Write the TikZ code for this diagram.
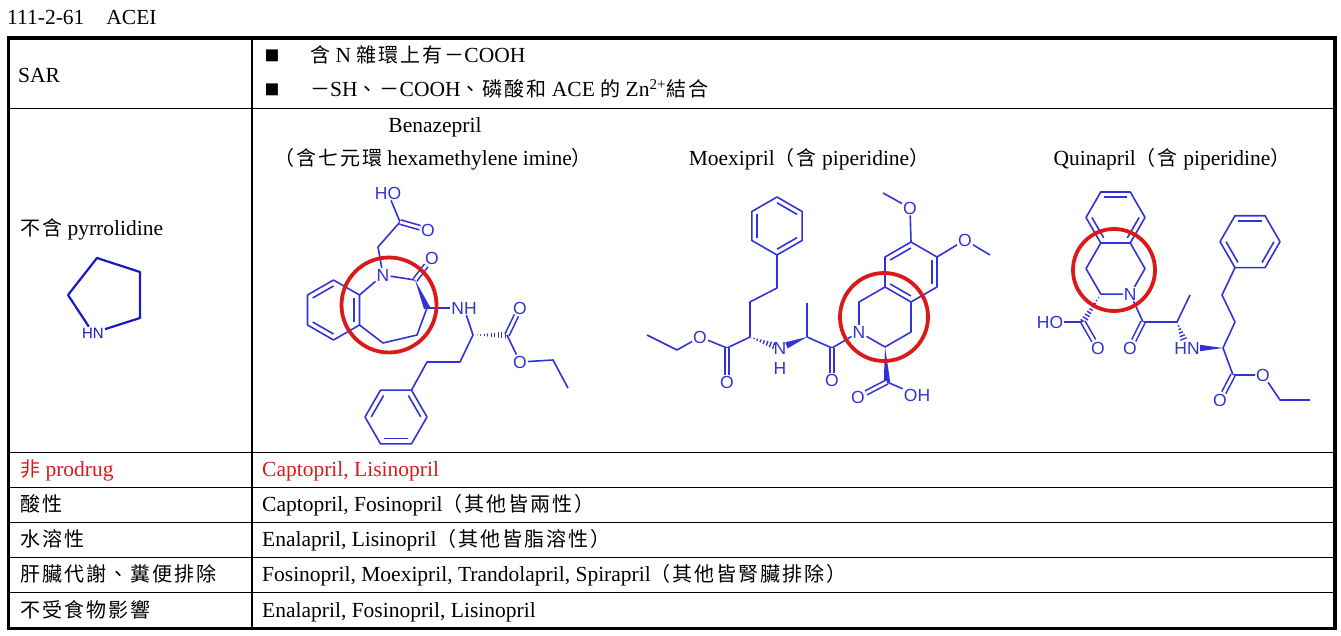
\documentclass[tikz,border=0pt]{standalone}
\usepackage{fontspec}
\setmainfont{Liberation Serif}
\newfontfamily\cjk[LetterSpace=10,Scale=0.93]{Noto Sans CJK TC}
\newfontfamily\chemfont{Liberation Sans}
\usetikzlibrary{calc}

\definecolor{chem}{RGB}{50,50,215}
\definecolor{pyrblue}{RGB}{25,25,200}
\definecolor{markred}{RGB}{220,25,25}

\tikzset{
  bond/.style={draw=chem, line width=1.6pt, line join=round},
  dbl/.style={double=white, double distance=2.8pt},
  atom/.style={font=\chemfont\fontsize{17.5}{17.5}\selectfont, text=chem, inner sep=1pt},
  cell/.style={font=\fontsize{21.5}{25}\selectfont, anchor=base west, inner sep=0pt},
  tableline/.style={line width=1.2pt},
  redring/.style={draw=markred, line width=3.8pt},
}

% 六元环: 名称, 中心, 半径, 起始角
\newcommand{\hexring}[4]{%
  \coordinate (#1) at (#2);
  \foreach \k in {1,...,6}{\coordinate (#1-\k) at ($(#1)+({#4+60*(\k-1)}:#3)$);}
  \draw[bond] (#1-1) -- (#1-2) -- (#1-3) -- (#1-4) -- (#1-5) -- (#1-6) -- cycle;}
\newcommand{\innerbond}[3]{\draw[bond] ($(#1)!0.8!(#1-#2)$) -- ($(#1)!0.8!(#1-#3)$);}
\newcommand{\wedgebond}[2]{\fill[chem] (#1) -- ($(#2)!3.2pt!90:(#1)$) -- ($(#2)!3.2pt!-90:(#1)$) -- cycle;}
\newcommand{\hashbond}[2]{\begin{scope}
  \clip (#1) -- ($(#2)!3.5pt!90:(#1)$) -- ($(#2)!3.5pt!-90:(#1)$) -- cycle;
  \draw[chem, line width=9pt, dash pattern=on 1.4pt off 2.1pt] (#1) -- (#2);
  \end{scope}}

\begin{document}
\begin{tikzpicture}[x=1pt,y=-1pt]
    \useasboundingbox (0,0) rectangle (1341,636);

    % 绘制表格
    \draw[line width=3.5pt] (8.5,38) rectangle (1335,628.5);
    \draw[tableline] (252,38) -- (252,628.5);
    \draw[tableline] (8.5,108.3) -- (1335,108.3);
    \draw[tableline] (8.5,452.3) -- (1335,452.3);
    \draw[tableline] (8.5,487.3) -- (1335,487.3);
    \draw[tableline] (8.5,522.3) -- (1335,522.3);
    \draw[tableline] (8.5,557.3) -- (1335,557.3);
    \draw[tableline] (8.5,592.3) -- (1335,592.3);

    % 绘制标题和文字
    \node[cell] (title) at (7,25) {111-2-61\hspace{22pt}ACEI};
    \node[cell] (sar) at (18,83) {SAR};
    \node[font=\cjk\fontsize{16}{16}\selectfont, inner sep=0pt] (dot1) at (272,56) {■};
    \node[font=\cjk\fontsize{16}{16}\selectfont, inner sep=0pt] (dot2) at (272,90) {■};
    \node[cell] (sar1) at (310,63) {{\cjk 含} N {\cjk 雜環上有－}COOH};
    \node[cell] (sar2) at (310,97) {{\cjk －}SH{\cjk 、－}COOH{\cjk 、磷酸和} ACE {\cjk 的} Zn\textsuperscript{2+}{\cjk 結合}};
    \node[cell] (pyr) at (20,236) {{\cjk 不含} pyrrolidine};
    \node[cell, anchor=base] (benaz) at (435,133) {Benazepril};
    \node[cell, anchor=base] (benazring) at (433,166) {{\cjk （含七元環} hexamethylene imine{\cjk ）}};
    \node[cell, anchor=base] (moexi) at (809,166) {Moexipril{\cjk （含} piperidine{\cjk ）}};
    \node[cell, anchor=base] (quina) at (1172,166) {Quinapril{\cjk （含} piperidine{\cjk ）}};
    \node[cell, text=markred] (r1a) at (20,476.5) {{\cjk 非} prodrug};
    \node[cell, text=markred] (r1b) at (262,476.5) {Captopril, Lisinopril};
    \node[cell] (r2a) at (20,511.5) {{\cjk 酸性}};
    \node[cell] (r2b) at (262,511.5) {Captopril, Fosinopril{\cjk （其他皆兩性）}};
    \node[cell] (r3a) at (20,546.4) {{\cjk 水溶性}};
    \node[cell] (r3b) at (262,546.4) {Enalapril, Lisinopril{\cjk （其他皆脂溶性）}};
    \node[cell] (r4a) at (20,581.4) {{\cjk 肝臟代謝、糞便排除}};
    \node[cell] (r4b) at (262,581.4) {Fosinopril, Moexipril, Trandolapril, Spirapril{\cjk （其他皆腎臟排除）}};
    \node[cell] (r5a) at (20,617) {{\cjk 不受食物影響}};
    \node[cell] (r5b) at (262,617) {Enalapril, Fosinopril, Lisinopril};

    % 绘制 pyrrolidine
    \node[atom, text=pyrblue, font=\chemfont\fontsize{15}{15}\selectfont] (pN) at (93,333) {HN};
    \coordinate (pC1) at (97,258);
    \coordinate (pC2) at (140,272);
    \coordinate (pC3) at (140,318);
    \coordinate (pC4) at (68,295);
    \draw[bond, draw=pyrblue, line width=2.2pt] (pC4) -- (pC1) -- (pC2) -- (pC3) -- (pN) -- (pC4);

    % 绘制 Benazepril
    \node[atom] (bHO) at (388,193) {HO};
    \coordinate (bC1) at (400,222);
    \node[atom] (bO1) at (428,230) {O};
    \coordinate (bC2) at (378,247);
    \node[atom] (bN) at (383,275) {N};
    \coordinate (bC3) at (415,280);
    \node[atom] (bO2) at (432,258) {O};
    \coordinate (bC4) at (427,308);
    \node[atom] (bNH) at (464,308) {NH};
    \coordinate (bC5) at (417,335);
    \coordinate (bC6) at (383,343);
    \hexring{bA}{333.5,310}{30}{-30}
    \innerbond{bA}{1}{2}\innerbond{bA}{3}{4}\innerbond{bA}{5}{6}
    \draw[bond] (bHO) -- (bC1) -- (bC2) -- (bN) -- (bC3);
    \draw[bond,dbl] (bC1) -- (bO1);
    \draw[bond,dbl] (bC3) -- (bO2);
    \wedgebond{bC3}{bC4}
    \draw[bond] (bC4) -- (bNH);
    \draw[bond] (bC4) -- (bC5) -- (bC6) -- (bA-2);
    \draw[bond] (bN) -- (bA-1);
    \coordinate (bC7) at (473,335);
    \coordinate (bC8) at (507,335);
    \node[atom] (bO3) at (520,308) {O};
    \node[atom] (bO4) at (520,362) {O};
    \coordinate (bC9) at (553,360);
    \coordinate (bC10) at (568,388);
    \coordinate (bC11) at (460,362);
    \coordinate (bC12) at (427,362);
    \hexring{bP}{396,417}{31}{0}
    \innerbond{bP}{6}{1}\innerbond{bP}{4}{5}\innerbond{bP}{2}{3}
    \draw[bond] (bNH) -- (bC7);
    \hashbond{bC7}{bC8}
    \draw[bond,dbl] (bC8) -- (bO3);
    \draw[bond] (bC8) -- (bO4) -- (bC9) -- (bC10);
    \draw[bond] (bC7) -- (bC11) -- (bC12) -- (bP-6);

    % 绘制 Moexipril
    \coordinate (mC1) at (647,335);
    \coordinate (mC2) at (677,350);
    \node[atom] (mO1) at (700,337) {O};
    \coordinate (mC3) at (727,348);
    \node[atom] (mO2) at (727,382) {O};
    \coordinate (mC4) at (750,337);
    \coordinate (mC5) at (750,302);
    \coordinate (mC6) at (777,288);
    \hexring{mP}{777,226}{29}{90}
    \innerbond{mP}{2}{3}\innerbond{mP}{4}{5}\innerbond{mP}{6}{1}
    \node[atom] (mN1) at (780,348) {N};
    \node[atom] (mH) at (780,368) {H};
    \coordinate (mC7) at (807,337);
    \coordinate (mC8) at (807,303);
    \coordinate (mC9) at (832,348);
    \node[atom] (mO3) at (832,380) {O};
    \node[atom] (mN2) at (859,332) {N};
    \hexring{mB}{911,272}{30}{90}
    \innerbond{mB}{1}{2}\innerbond{mB}{3}{4}\innerbond{mB}{5}{6}
    \coordinate (mC11) at (859,302);
    \coordinate (mC14) at (911,332);
    \coordinate (mC10) at (885,347);
    \node[atom] (mO4) at (910,208) {O};
    \coordinate (mC15) at (883,193);
    \node[atom] (mO5) at (965,240) {O};
    \coordinate (mC16) at (990,255);
    \coordinate (mC17) at (887,382);
    \node[atom] (mO6) at (858,397) {O};
    \node[atom] (mOH) at (917,395) {OH};
    \draw[bond] (mC1) -- (mC2) -- (mO1) -- (mC3) -- (mC4) -- (mC5) -- (mC6) -- (mP-1);
    \draw[bond,dbl] (mC3) -- (mO2);
    \coordinate (mN1a) at ($(mN1)!6pt!(mC4)$);
    \hashbond{mC4}{mN1a}
    \coordinate (mN1b) at ($(mN1)!7pt!(mC7)$);
    \wedgebond{mC7}{mN1b}
    \draw[bond] (mC7) -- (mC8);
    \draw[bond] (mC7) -- (mC9) -- (mN2);
    \draw[bond,dbl] (mC9) -- (mO3);
    \draw[bond] (mN2) -- (mC11) -- (mB-2);
    \draw[bond] (mB-1) -- (mC14) -- (mC10) -- (mN2);
    \draw[bond] (mB-4) -- (mO4) -- (mC15);
    \draw[bond] (mB-5) -- (mO5) -- (mC16);
    \wedgebond{mC10}{mC17}
    \draw[bond,dbl] (mC17) -- (mO6);
    \draw[bond] (mC17) -- (mOH);

    % 绘制 Quinapril
    \hexring{qB}{1115.5,217.5}{29.5}{0}
    \innerbond{qB}{5}{6}\innerbond{qB}{3}{4}\innerbond{qB}{1}{2}
    \coordinate (qC1) at (1086,268.6);
    \coordinate (qC2) at (1100.8,294.1);
    \node[atom] (qN) at (1130.3,294.1) {N};
    \coordinate (qC3) at (1145,268.6);
    \draw[bond] (qB-3) -- (qC1) -- (qC2) -- (qN) -- (qC3) -- (qB-2);
    \coordinate (qC4) at (1083,322);
    \hashbond{qC2}{qC4}
    \node[atom] (qHO) at (1050,322) {HO};
    \node[atom] (qO1) at (1098,348) {O};
    \draw[bond] (qHO) -- (qC4);
    \draw[bond,dbl] (qC4) -- (qO1);
    \coordinate (qC5) at (1143,322);
    \node[atom] (qO2) at (1130,348) {O};
    \coordinate (qC6) at (1177,322);
    \coordinate (qC7) at (1190,295);
    \node[atom] (qHN) at (1187,348) {HN};
    \coordinate (qC8) at (1223,348);
    \draw[bond] (qN) -- (qC5) -- (qC6) -- (qC7);
    \draw[bond,dbl] (qC5) -- (qO2);
    \coordinate (qHNa) at ($(qHN)!9pt!(qC6)$);
    \hashbond{qC6}{qHNa}
    \coordinate (qHNb) at ($(qHN)!13pt!(qC8)$);
    \wedgebond{qC8}{qHNb}
    \coordinate (qC9) at (1235,322);
    \coordinate (qC10) at (1222,295);
    \hexring{qP}{1250,241.7}{30}{0}
    \innerbond{qP}{5}{6}\innerbond{qP}{3}{4}\innerbond{qP}{1}{2}
    \draw[bond] (qC8) -- (qC9) -- (qC10) -- (qP-3);
    \coordinate (qC11) at (1233,375);
    \node[atom] (qO3) at (1220,400) {O};
    \node[atom] (qO4) at (1263,375) {O};
    \coordinate (qC12) at (1280,400);
    \coordinate (qC13) at (1310,400);
    \draw[bond] (qC8) -- (qC11) -- (qO4) -- (qC12) -- (qC13);
    \draw[bond,dbl] (qC11) -- (qO3);

    % 绘制红色圆圈
    \draw[redring] (389,305) circle[radius=47.5];
    \draw[redring] (884,317) circle[radius=44];
    \draw[redring] (1114,270) circle[radius=41];
\end{tikzpicture}
\end{document}
